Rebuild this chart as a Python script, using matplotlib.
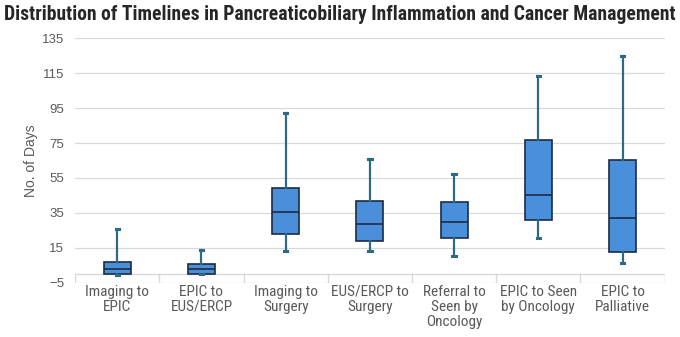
import matplotlib
matplotlib.use('Agg')
import matplotlib.pyplot as plt
import numpy as np

plt.rcParams['font.family'] = ['Roboto Condensed', 'Liberation Sans Narrow', 'Liberation Sans', 'DejaVu Sans']

# Data (days)
categories = ['Imaging to\nEPIC', 'EPIC to\nEUS/ERCP', 'Imaging to\nSurgery', 'EUS/ERCP to\nSurgery',
              'Referral to\nSeen by\nOncology', 'EPIC to Seen\nby Oncology', 'EPIC to\nPalliative']
whisker_low = [-0.8, 0.0, 13.3, 13.0, 10.1, 20.6, 6.5]
q1 = [0.0, 0.0, 22.7, 18.9, 20.4, 30.9, 12.8]
medians = [2.7, 2.7, 35.3, 28.6, 29.8, 45.4, 31.9]
q3 = [6.7, 5.5, 49.4, 41.6, 41.4, 76.6, 65.1]
whisker_high = [25.8, 13.6, 92.2, 66.0, 57.1, 113.6, 124.7]
y_ticks = [-5, 15, 35, 55, 75, 95, 115, 135]

BOX_FILL = '#4A8FDA'
BOX_EDGE = '#1C2B45'
WHISK = '#2E6A84'
GRID = '#D9D9D9'
TEXT = '#595959'
ARIAL = ['Liberation Sans', 'DejaVu Sans']

fig = plt.figure(figsize=(6.8, 3.37), dpi=100)
ax = fig.add_axes([0.1105, 0.1612, 0.867, 0.7253])

stats = []
for i in range(len(categories)):
    stats.append({'whislo': whisker_low[i], 'q1': q1[i], 'med': medians[i],
                  'q3': q3[i], 'whishi': whisker_high[i], 'fliers': []})

pos = np.arange(len(categories))
ax.bxp(stats, positions=pos, widths=0.32, patch_artist=True, showfliers=False,
       boxprops=dict(facecolor=BOX_FILL, edgecolor=BOX_EDGE, linewidth=1.2),
       medianprops=dict(color=BOX_EDGE, linewidth=1.2),
       whiskerprops=dict(color=WHISK, linewidth=1.6),
       capprops=dict(color=WHISK, linewidth=2.2),
       capwidths=0.04, zorder=3)

ax.set_xlim(-0.5, len(categories) - 0.5)
ax.set_ylim(-5, 135)
ax.set_yticks(y_ticks)
ax.grid(axis='y', color=GRID, linewidth=0.9, zorder=0)
ax.set_axisbelow(True)

# horizontal axis crosses at 0, tick marks down to -5
ax.axhline(0, color=GRID, linewidth=1.0, zorder=1)
for b in np.arange(-0.5, len(categories), 1.0):
    ax.plot([b, b], [-5, 0], color=GRID, linewidth=1.0, zorder=1)

for s in ax.spines.values():
    s.set_visible(False)

ax.set_xticks(pos)
ax.set_xticklabels(categories, fontsize=11, color=TEXT, linespacing=1.1)
ax.tick_params(axis='x', length=0, pad=1.5)
ax.tick_params(axis='y', length=0, labelsize=9.5, labelcolor=TEXT, pad=8)
for lab in ax.get_yticklabels():
    lab.set_family(ARIAL)
ax.set_ylabel('No. of Days', fontsize=10, color=TEXT, labelpad=3, family=ARIAL)

title = fig.text(0.5, 0.958, 'Distribution of Timelines in Pancreaticobiliary Inflammation and Cancer Management',
                 ha='center', va='center', fontsize=14.5, fontweight='bold', color='#262626')
# shrink the title so it spans the figure width like the reference
fig.canvas.draw()
w = title.get_window_extent().width
title.set_fontsize(14.5 * min(1.0, 672.0 / w))

fig.savefig('out.png', dpi=100)
